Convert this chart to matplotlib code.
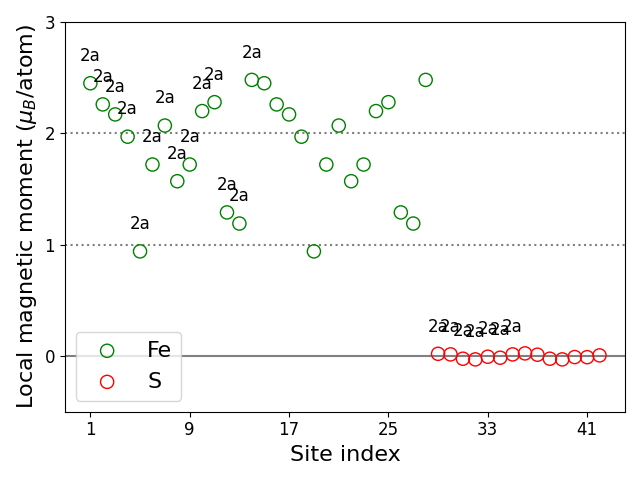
import matplotlib
matplotlib.use("Agg")
import matplotlib.pyplot as plt
import numpy as np

fe_sites = list(range(1, 29))
fe_moments = [2.45, 2.26, 2.17, 1.97, 0.94, 1.72, 2.07, 1.57, 1.72, 2.20, 2.28, 1.29, 1.19, 2.48,
              2.45, 2.26, 2.17, 1.97, 0.94, 1.72, 2.07, 1.57, 1.72, 2.20, 2.28, 1.29, 1.19, 2.48]
s_sites = list(range(29, 43))
s_moments = [0.020, 0.015, -0.024, -0.030, -0.006, -0.015, 0.015,
             0.024, 0.012, -0.024, -0.030, -0.009, -0.010, 0.006]
fe_labeled = 14
s_labeled = 7
wyckoff = "2a"
xticks = [1, 9, 17, 25, 33, 41]
yticks = [0, 1, 2, 3]

fig, ax = plt.subplots(figsize=(6.4, 4.8), dpi=100)
ax.axhline(0, color="gray", lw=1.5, zorder=0)
ax.axhline(1, color="gray", lw=1.5, ls=":", zorder=0)
ax.axhline(2, color="gray", lw=1.5, ls=":", zorder=0)

ax.scatter(fe_sites, fe_moments, s=90, facecolors="none", edgecolors="green", label="Fe")
ax.scatter(s_sites, s_moments, s=90, facecolors="none", edgecolors="red", label="S")

for i in range(fe_labeled):
    ax.text(fe_sites[i], fe_moments[i] + 0.2, wyckoff, ha="center", fontsize=12)
for i in range(s_labeled):
    ax.text(s_sites[i], s_moments[i] + 0.2, wyckoff, ha="center", fontsize=12)

ax.set_ylim(-0.5, 3)
ax.set_xticks(xticks)
ax.set_yticks(yticks)
ax.tick_params(labelsize=12)
ax.set_xlabel("Site index", fontsize=16)
ax.set_ylabel(r"Local magnetic moment ($\mu_B$/atom)", fontsize=16)
ax.legend(loc="lower left", fontsize=16)
fig.tight_layout()
fig.savefig("out.png", dpi=100)
